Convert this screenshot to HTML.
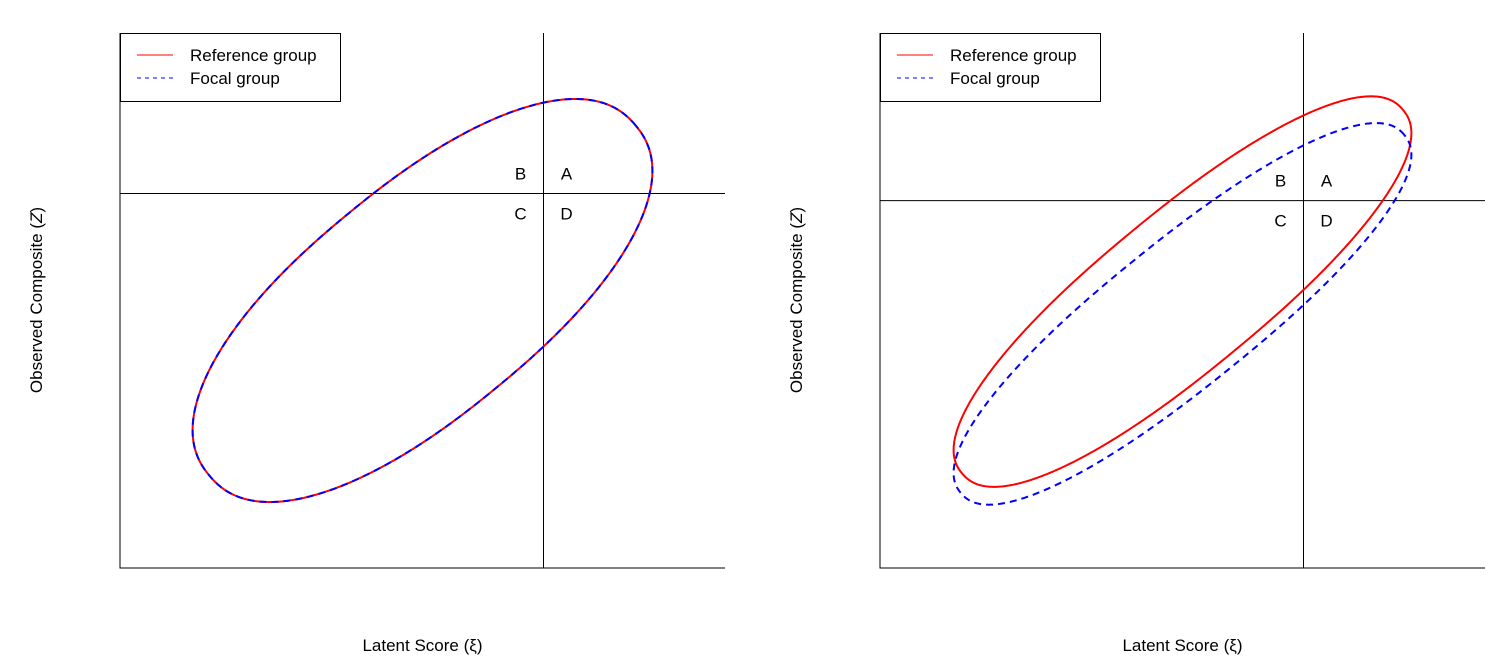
<!DOCTYPE html>
<html><head><meta charset="utf-8"><style>
body{margin:0;background:#fff}
svg text{font-family:"Liberation Sans",sans-serif;font-size:17px;fill:#000}
</style></head><body>
<svg id="s" width="1493" height="662" xmlns="http://www.w3.org/2000/svg"></svg>
<script>
// Data: ellipse parameters [centerX, centerY, halfWidthX, halfWidthY, correlation]
const panelNames = ["left-panel","right-panel"];
const panelOffsets = [120, 880];
const cutX = [1.2, 1.2];
const cutY = [1.2, 1.12];
const refEllipse = [[0.0, 0.0, 2.28, 2.26, 0.70],[0.0, 0.1, 2.27, 2.19, 0.855]];
const focEllipse = [[0.0, 0.0, 2.28, 2.26, 0.70],[0.0, -0.15, 2.27, 2.14, 0.875]];
const shapeExponent = [2.25, 2.25];
const quadLabels = ["A","B","C","D"];
const legendLabels = ["Reference group","Focal group"];

const NS="http://www.w3.org/2000/svg", svg=document.getElementById('s');
function mk(t,a,p){const e=document.createElementNS(NS,t);for(const k in a)e.setAttribute(k,a[k]);(p||svg).appendChild(e);return e;}
const W=605, plotTop=33, plotBot=568;
const kx=W/6, ky=(plotBot-plotTop)/6;
function sx(o,v){return o+(v+3)*kx;}
function sy(v){return plotBot-(v+3)*ky;}
function ellPath(o,p,n){
  const [cx,cy,ax,ay,r]=p, d=Math.acos(r);
  const m11=ax*kx, m12=0, m21=ay*ky*Math.cos(d), m22=ay*ky*Math.sin(d);
  const A=m11*m11+m12*m12, B=m11*m21+m12*m22, C=m21*m21+m22*m22;
  const th=0.5*Math.atan2(2*B,A-C);
  const mean=(A+C)/2, rad=Math.sqrt(((A-C)/2)**2+B*B);
  const a=Math.sqrt(mean+rad), b=Math.sqrt(mean-rad);
  const pts=[]; let mx=0,my=0;
  for(let i=0;i<=720;i++){const t=i*Math.PI/360;
    const c=Math.cos(t), s=Math.sin(t);
    const u=a*Math.sign(c)*Math.pow(Math.abs(c),2/n), v=b*Math.sign(s)*Math.pow(Math.abs(s),2/n);
    const X=u*Math.cos(th)-v*Math.sin(th), Y=u*Math.sin(th)+v*Math.cos(th);
    pts.push([X,Y]); mx=Math.max(mx,Math.abs(X)); my=Math.max(my,Math.abs(Y));}
  const fx=ax*kx/mx, fy=ay*ky/my;
  const ox=sx(o,cx), oy=sy(cy);
  return pts.map((q,i)=>(i?"L":"M")+(ox+q[0]*fx).toFixed(2)+","+(oy-q[1]*fy).toFixed(2)).join("")+"Z";
}
panelOffsets.forEach((o,i)=>{
  const g=mk('g',{});
  
  
  const ax=mk('path',{d:`M${o},${plotTop}V${plotBot}H${o+W}`,stroke:'#000',fill:'none','stroke-width':1},g);
  
  
  const vx=sx(o,cutX[i]), hy=sy(cutY[i]);
  const vl=mk('line',{x1:vx,x2:vx,y1:plotTop,y2:plotBot,stroke:'#000'},g);
  
  
  const hl=mk('line',{x1:o,x2:o+W,y1:hy,y2:hy,stroke:'#000'},g);
  
  
  const pos=[[23,-14],[-23,-14],[-23,26],[23,26]];
  quadLabels.forEach((q,k)=>{
    const t=mk('text',{x:vx+pos[k][0],y:hy+pos[k][1],'text-anchor':'middle'},g);t.textContent=q;
    
    
  });
  const re=mk('path',{d:ellPath(o,refEllipse[i],shapeExponent[i]),stroke:'#f00',fill:'none','stroke-width':2},g);
  
  
  const fe=mk('path',{d:ellPath(o,focEllipse[i],shapeExponent[i]),stroke:'#00f',fill:'none','stroke-width':2,'stroke-dasharray':'7,5'},g);
  
  
  const lg=mk('g',{},g);
  
  
  mk('rect',{x:o+0.5,y:plotTop+0.5,width:220,height:68,fill:'#fff',stroke:'#000'},lg);
  mk('line',{x1:o+17,x2:o+53,y1:55,y2:55,stroke:'#f00'},lg);
  mk('line',{x1:o+17,x2:o+53,y1:78,y2:78,stroke:'#00f','stroke-dasharray':'4,4'},lg);
  legendLabels.forEach((l,k)=>{const t=mk('text',{x:o+70,y:61+k*23},lg);t.textContent=l;
    
    });
  const xt=mk('text',{x:o+W/2,y:651,'text-anchor':'middle'},g);
  xt.textContent='Latent Score (ξ)';
  
  
  const yt=mk('text',{x:0,y:0,'text-anchor':'middle',transform:`translate(${o-78},300) rotate(-90)`},g);
  yt.innerHTML='Observed Composite (<tspan font-style="italic">Z</tspan>)';
  
  
});
</script>
</body></html>
